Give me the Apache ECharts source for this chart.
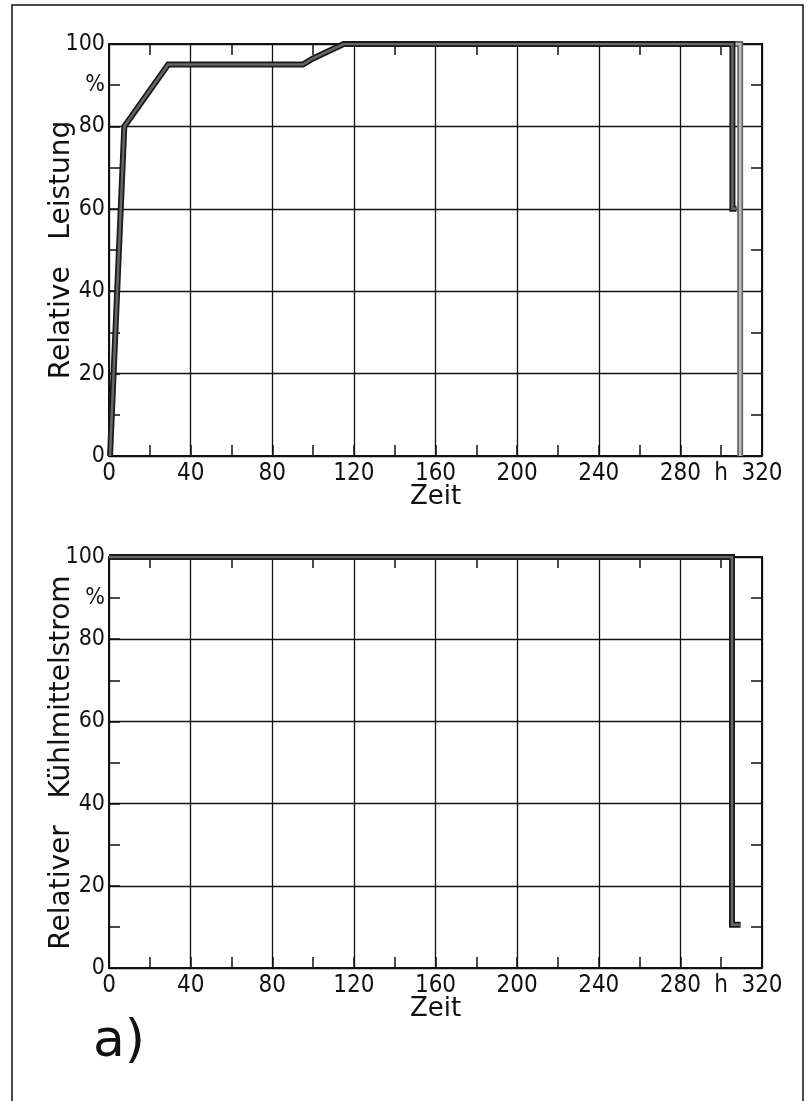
<!DOCTYPE html>
<html>
<head>
<meta charset="utf-8">
<script src="https://cdn.jsdelivr.net/npm/echarts@6/dist/echarts.min.js"></script>
<style>
  html, body { margin: 0; padding: 0; background: #fff; }
  #chart { width: 807px; height: 1101px; }
</style>
</head>
<body>
<div id="chart"></div>
<script>
// Relative Leistung (power) over time, h
const leistungZeit = [0.5, 7.5, 29, 95, 100, 115, 305.5, 305.5, 307.5];
const leistung = [0, 80, 95, 95, 96.5, 100, 100, 60, 60];
// final shutdown trace (lighter line)
const abschaltZeit = [305.5, 309.3, 309.3];
const abschalt = [100, 100, 0];

// Relativer Kühlmittelstrom (coolant flow)
const stromZeit = [0, 305.3, 305.3, 309.5];
const strom = [100, 100, 10.5, 10.5];

const xTickLabels = { 0: "0", 40: "40", 80: "80", 120: "120", 160: "160", 200: "200", 240: "240", 280: "280", 300: "h", 320: "320" };
const yTickLabels = { 0: "0", 20: "20", 40: "40", 60: "60", 80: "80", 90: "%", 100: "100" };

const numFont = "'Liberation Sans Narrow', 'DejaVu Sans Condensed', sans-serif";
const nameFont = "'DejaVu Sans', sans-serif";
const ink = "#111";

function pair(a, b) { return a.map((v, i) => [v, b[i]]); }

const grids = [
  { left: 109, right: 45, top: 44, height: 412 },
  { left: 109, right: 45, top: 557, height: 411 }
];
const yNames = ["Relative   Leistung", "Relativer   Kühlmittelstrom"];

const xAxes = [];
const yAxes = [];
grids.forEach((g, gi) => {
  xAxes.push({
    gridIndex: gi, type: "value", position: "bottom", min: 0, max: 320, interval: 20,
    name: "Zeit", nameLocation: "middle", nameGap: 28, nameMoveOverlap: false,
    nameTextStyle: { fontFamily: nameFont, fontSize: 26, color: ink },
    axisLine: { show: true, onZero: false, lineStyle: { color: ink, width: 2 } },
    axisTick: { show: true, inside: true, length: 11, lineStyle: { color: ink, width: 1.5 } },
    axisLabel: { margin: 6, fontFamily: numFont, fontSize: 24, color: ink,
      formatter: v => xTickLabels[v] ?? "" },
    splitLine: { show: false }
  });
  xAxes.push({
    gridIndex: gi, type: "value", position: "top", min: 0, max: 320, interval: 40,
    axisLine: { show: true, onZero: false, lineStyle: { color: ink, width: 2 } },
    axisTick: { show: false, inside: true },
    minorTick: { show: true, splitNumber: 2, length: 11, lineStyle: { color: ink, width: 1.5 } },
    axisLabel: { show: false },
    splitLine: { show: true, lineStyle: { color: ink, width: 1.3 } }
  });
  yAxes.push({
    gridIndex: gi, type: "value", position: "left", min: 0, max: 100, interval: 10,
    name: yNames[gi], nameLocation: "middle", nameGap: 33, nameMoveOverlap: false,
    nameTextStyle: { fontFamily: nameFont, fontSize: 28, color: ink },
    axisLine: { show: true, onZero: false, lineStyle: { color: ink, width: 2 } },
    axisTick: { show: true, inside: true, length: 11, lineStyle: { color: ink, width: 1.5 } },
    axisLabel: { margin: 4, fontFamily: numFont, fontSize: 23, color: ink,
      formatter: v => yTickLabels[v] ?? "" },
    splitLine: { show: false }
  });
  yAxes.push({
    gridIndex: gi, type: "value", position: "right", min: 0, max: 100, interval: 20,
    axisLine: { show: true, onZero: false, lineStyle: { color: ink, width: 2 } },
    axisTick: { show: false, inside: true },
    minorTick: { show: true, splitNumber: 2, length: 11, lineStyle: { color: ink, width: 1.5 } },
    axisLabel: { show: false },
    splitLine: { show: true, lineStyle: { color: ink, width: 1.3 } }
  });
});

// thick pen trace: dark edge with grey core
function trace(data, gi, edge, core, z) {
  const base = { type: "line", xAxisIndex: gi * 2, yAxisIndex: gi * 2, data: data,
    symbol: "none", silent: true, animation: false };
  return [
    Object.assign({}, base, { z: z, lineStyle: { color: edge, width: 6, join: "miter" } }),
    Object.assign({}, base, { z: z + 1, lineStyle: { color: core, width: 2.5, join: "miter" } })
  ];
}

const series = [].concat(
  trace(pair(abschaltZeit, abschalt), 0, "#666", "#bbb", 3),
  trace(pair(leistungZeit, leistung), 0, "#1a1a1a", "#666", 5),
  trace(pair(stromZeit, strom), 1, "#1a1a1a", "#666", 5)
);

const chart = echarts.init(document.getElementById("chart"), null, { renderer: "canvas" });
chart.setOption({
  backgroundColor: "#fff",
  animation: false,
  grid: grids,
  xAxis: xAxes,
  yAxis: yAxes,
  series: series,
  graphic: [
    { type: "rect", shape: { x: 12, y: 5, width: 791, height: 1110 },
      style: { fill: null, stroke: ink, lineWidth: 1.5 }, silent: true },
    { type: "text", left: 93, top: 1016,
      style: { text: "a)", fontFamily: nameFont, fontSize: 52, fill: ink } }
  ]
});
</script>
</body>
</html>
